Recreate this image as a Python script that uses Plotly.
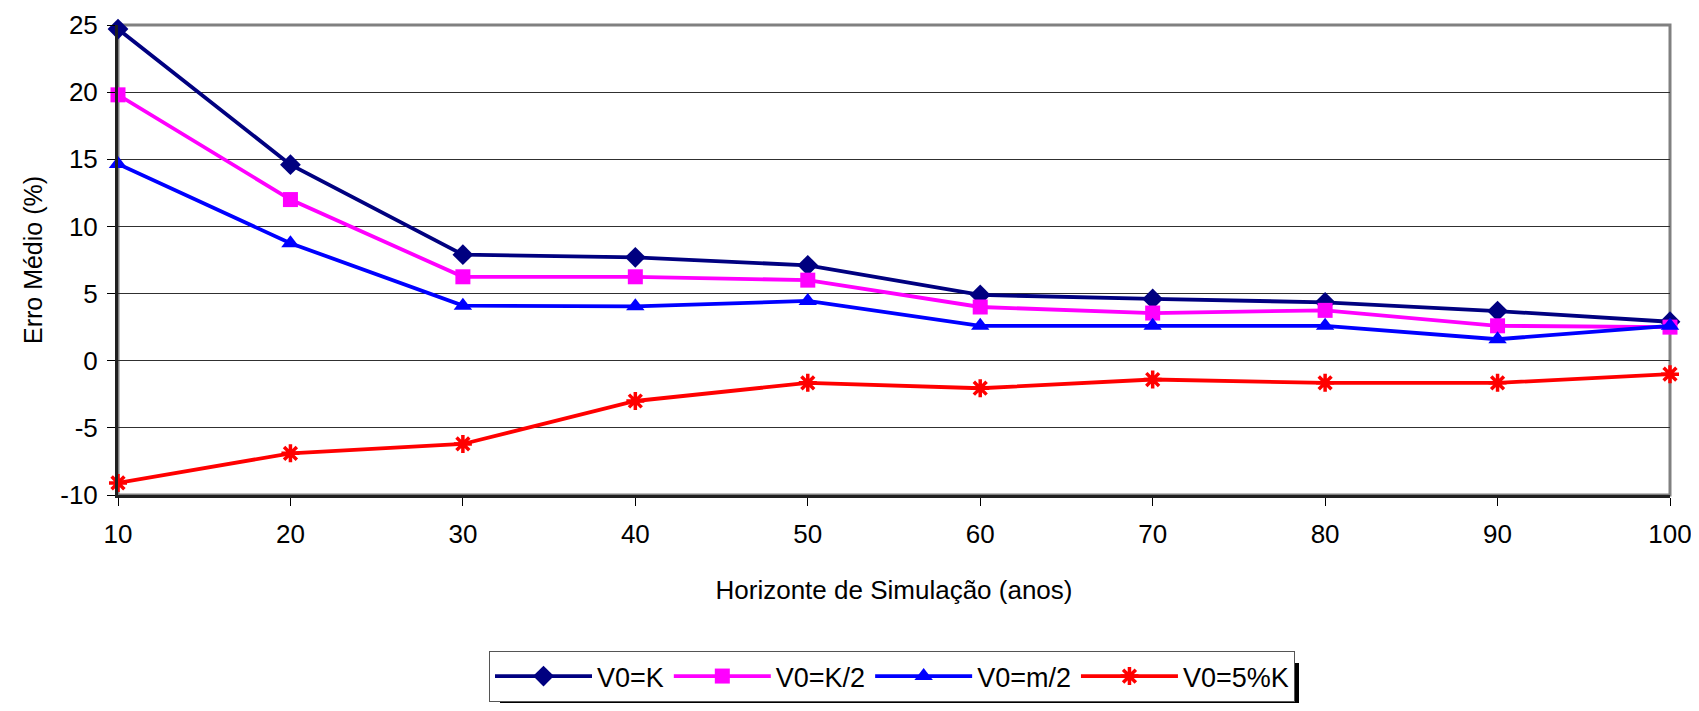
import plotly.graph_objects as go

# Horizonte de simulação (anos)
horizonte = [10, 20, 30, 40, 50, 60, 70, 80, 90, 100]

# Erro médio (%) por condição inicial
v0_k = [24.7, 14.6, 7.9, 7.7, 7.1, 4.9, 4.6, 4.35, 3.7, 2.9]
v0_k2 = [19.8, 12.0, 6.25, 6.25, 6.0, 4.0, 3.55, 3.75, 2.6, 2.5]
v0_m2 = [14.65, 8.75, 4.1, 4.05, 4.45, 2.6, 2.6, 2.6, 1.6, 2.6]
v0_5k = [-9.1, -6.9, -6.2, -3.0, -1.65, -2.05, -1.4, -1.65, -1.65, -1.0]

# eixo y (rótulos com hífen, como no original)
y_ticks = [-10, -5, 0, 5, 10, 15, 20, 25]
y_labels = ["-10", "-5", "0", "5", "10", "15", "20", "25"]

# a página tem 8px de margem no body; a figura cabe sem barras de rolagem
PAGE_OFF = 8
W, H = 1699 - 2 * PAGE_OFF, 711 - 2 * PAGE_OFF
# área do gráfico em coordenadas da janela
X0, X1, Y0, Y1 = 118, 1670, 25, 495
L, T = X0 - PAGE_OFF, Y0 - PAGE_OFF
R, B = PAGE_OFF + W - X1, PAGE_OFF + H - Y1
PW, PH = X1 - X0, Y1 - Y0

FONT = "Liberation Sans, Arial, sans-serif"


def px_x(p):
    return (p - X0) / PW


def px_y(p):
    return (Y1 - p) / PH


fig = go.Figure()

series = [
    ("V0=K", v0_k, "#000080", "diamond", 16),
    ("V0=K/2", v0_k2, "#FF00FF", "square", 15),
    ("V0=m/2", v0_m2, "#0000FF", "triangle-up", 16),
]
for name, ys, color, sym, size in series:
    fig.add_trace(
        go.Scatter(
            x=horizonte,
            y=ys,
            name=name,
            mode="lines+markers",
            line=dict(color=color, width=3.8),
            marker=dict(symbol=sym, size=size, color=color),
            cliponaxis=False,
        )
    )

fig.add_trace(
    go.Scatter(
        x=horizonte,
        y=v0_5k,
        name="V0=5%K",
        mode="lines+markers",
        line=dict(color="#FF0000", width=3.8),
        marker=dict(
            symbol="asterisk-open", size=15, color="#FF0000",
            line=dict(color="#FF0000", width=3.5),
        ),
        cliponaxis=False,
    )
)

# borda da área do gráfico (cinza, estilo Excel)
fig.add_shape(
    type="rect", xref="paper", yref="paper", x0=0, x1=1, y0=0, y1=1,
    line=dict(color="#808080", width=3), layer="below",
)

# sombra da legenda
fig.add_shape(
    type="rect", xref="paper", yref="paper",
    x0=px_x(500), x1=px_x(1299), y0=px_y(730), y1=px_y(663),
    line=dict(width=0), fillcolor="black",
)

fig.update_layout(
    width=W,
    height=H,
    margin=dict(l=L, r=R, t=T, b=B, pad=0, autoexpand=False),
    paper_bgcolor="white",
    plot_bgcolor="white",
    font=dict(family=FONT, size=26, color="black"),
    showlegend=True,
    legend=dict(
        orientation="h",
        x=px_x(489),
        xanchor="left",
        y=px_y(651),
        yanchor="top",
        bgcolor="white",
        bordercolor="#555555",
        borderwidth=1,
        font=dict(family=FONT, size=27, color="black"),
        itemwidth=97,
    ),
    xaxis=dict(
        range=[10, 100],
        tickvals=horizonte,
        showgrid=False,
        zeroline=False,
        showline=True,
        linecolor="#202020",
        linewidth=3,
        ticks="outside",
        ticklen=8,
        tickcolor="black",
        ticklabelstandoff=6,
        ticklabeloverflow="allow",
        automargin=False,
        title=dict(text="Horizonte de Simulação (anos)", standoff=33,
                   font=dict(size=26)),
    ),
    yaxis=dict(
        range=[-10, 25],
        tickvals=y_ticks,
        ticktext=y_labels,
        showgrid=True,
        gridcolor="#303030",
        gridwidth=1,
        zeroline=False,
        showline=True,
        linecolor="#202020",
        linewidth=3,
        ticks="outside",
        ticklen=8,
        tickcolor="black",
        ticklabelstandoff=4,
        automargin=False,
        title=dict(text="Erro Médio (%)", standoff=11, font=dict(size=25)),
    ),
)

fig.write_html("out.html")
